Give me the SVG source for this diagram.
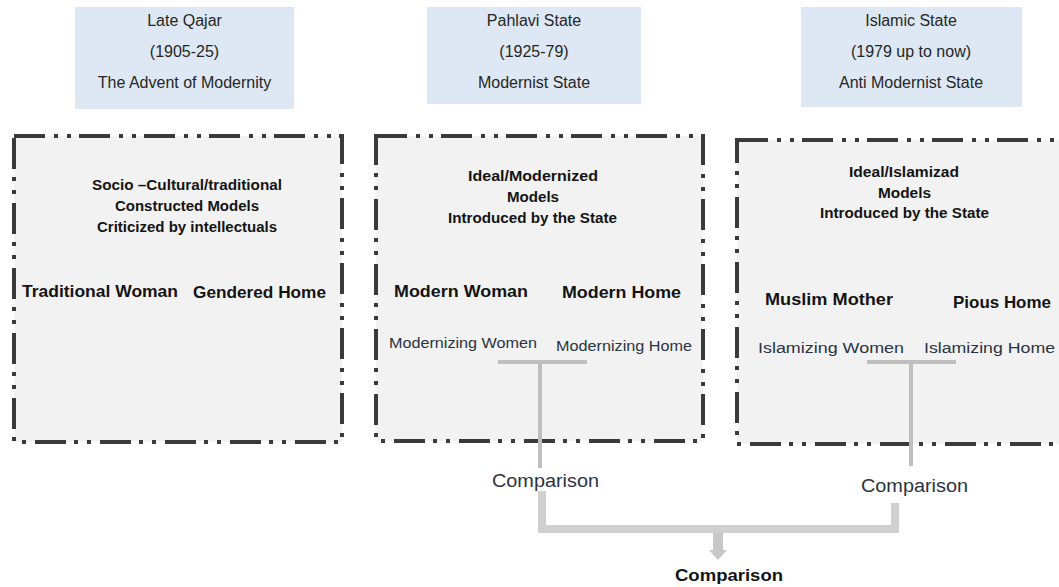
<svg xmlns="http://www.w3.org/2000/svg" width="1059" height="587" viewBox="0 0 1059 587">
<style>
  text { font-family: "Liberation Sans", Arial, sans-serif; text-anchor: middle; }
  .hdr { fill: #dde8f4; }
  .htx { font-size: 16px; fill: #262626; }
  .box { fill: #f2f2f2; stroke: #3a3a3a; stroke-width: 4; stroke-dasharray: 31 9 4 9 4 8; }
  .ttl { font-size: 14px; font-weight: bold; fill: #141414; }
  .mdl { font-size: 16.5px; font-weight: bold; fill: #141414; }
  .sub { font-size: 15.5px; fill: #2a3342; }
  .cmp { font-size: 18px; fill: #2a3342; }
  .cmpb { font-size: 17px; font-weight: bold; fill: #141414; }
  .tee { stroke: #bfbfbf; stroke-width: 4; fill: none; }
  .brk { stroke: #d0d0d0; stroke-width: 8; fill: none; stroke-linejoin: miter; }
</style>

<g id="header-qajar">
  <rect class="hdr" x="75" y="7" width="219" height="102"/>
  <text class="htx" x="184.5" y="26">Late Qajar</text>
  <text class="htx" x="184.5" y="57">(1905-25)</text>
  <text class="htx" x="184.5" y="88">The Advent of Modernity</text>
</g>

<g id="header-pahlavi">
  <rect class="hdr" x="427" y="7" width="214" height="97"/>
  <text class="htx" x="534" y="26">Pahlavi State</text>
  <text class="htx" x="534" y="57">(1925-79)</text>
  <text class="htx" x="534" y="88">Modernist State</text>
</g>

<g id="header-islamic">
  <rect class="hdr" x="801" y="7" width="221" height="100"/>
  <text class="htx" x="911" y="26">Islamic State</text>
  <text class="htx" x="911" y="57">(1979 up to now)</text>
  <text class="htx" x="911" y="88">Anti Modernist State</text>
</g>

<g id="box-traditional">
  <rect class="box" x="14" y="136" width="328" height="306"/>
  <text class="ttl" x="187" y="190" textLength="190" lengthAdjust="spacingAndGlyphs">Socio –Cultural/traditional</text>
  <text class="ttl" x="187" y="211" textLength="144" lengthAdjust="spacingAndGlyphs">Constructed Models</text>
  <text class="ttl" x="187" y="232" textLength="180" lengthAdjust="spacingAndGlyphs">Criticized by intellectuals</text>
  <text class="mdl" x="100" y="297" textLength="156" lengthAdjust="spacingAndGlyphs">Traditional Woman</text>
  <text class="mdl" x="259.5" y="298" textLength="133" lengthAdjust="spacingAndGlyphs">Gendered Home</text>
</g>

<g id="box-modernized">
  <rect class="box" x="376" y="136" width="327" height="305"/>
  <text class="ttl" x="533" y="181" textLength="130" lengthAdjust="spacingAndGlyphs">Ideal/Modernized</text>
  <text class="ttl" x="533" y="202" textLength="52" lengthAdjust="spacingAndGlyphs">Models</text>
  <text class="ttl" x="532.5" y="223" textLength="169" lengthAdjust="spacingAndGlyphs">Introduced by the State</text>
  <text class="mdl" x="461" y="297" textLength="134" lengthAdjust="spacingAndGlyphs">Modern Woman</text>
  <text class="mdl" x="621.5" y="298" textLength="119" lengthAdjust="spacingAndGlyphs">Modern Home</text>
  <text class="sub" x="463" y="348" textLength="148" lengthAdjust="spacingAndGlyphs">Modernizing Women</text>
  <text class="sub" x="624" y="351" textLength="136" lengthAdjust="spacingAndGlyphs">Modernizing Home</text>
</g>

<g id="box-islamized">
  <rect class="box" x="737" y="140" width="325" height="304"/>
  <text class="ttl" x="904" y="177" textLength="110" lengthAdjust="spacingAndGlyphs">Ideal/Islamizad</text>
  <text class="ttl" x="904.5" y="198" textLength="53" lengthAdjust="spacingAndGlyphs">Models</text>
  <text class="ttl" x="904.5" y="218" textLength="169" lengthAdjust="spacingAndGlyphs">Introduced by the State</text>
  <text class="mdl" x="829" y="305" textLength="128" lengthAdjust="spacingAndGlyphs">Muslim Mother</text>
  <text class="mdl" x="1002" y="308" textLength="98" lengthAdjust="spacingAndGlyphs">Pious Home</text>
  <text class="sub" x="831" y="353" textLength="146" lengthAdjust="spacingAndGlyphs">Islamizing Women</text>
  <text class="sub" x="989.5" y="353" textLength="131" lengthAdjust="spacingAndGlyphs">Islamizing Home</text>
</g>

<g id="connectors">
  <path class="tee" d="M498,362 H587 M540,362 V468"/>
  <path class="tee" d="M867,362 H956 M911,362 V466"/>
  <path class="brk" d="M542,491 V529 H895 V503"/>
  <path d="M713,533 H723 V550 H727 L718,560 L709,550 H713 Z" fill="#c8c8c8"/>
</g>

<g id="label-comparison-1">
  <text class="cmp" x="545.5" y="487" textLength="107" lengthAdjust="spacingAndGlyphs">Comparison</text>
</g>
<g id="label-comparison-2">
  <text class="cmp" x="914.5" y="492" textLength="107" lengthAdjust="spacingAndGlyphs">Comparison</text>
</g>
<g id="label-comparison-final">
  <text class="cmpb" x="729" y="581" textLength="108" lengthAdjust="spacingAndGlyphs">Comparison</text>
</g>
</svg>
